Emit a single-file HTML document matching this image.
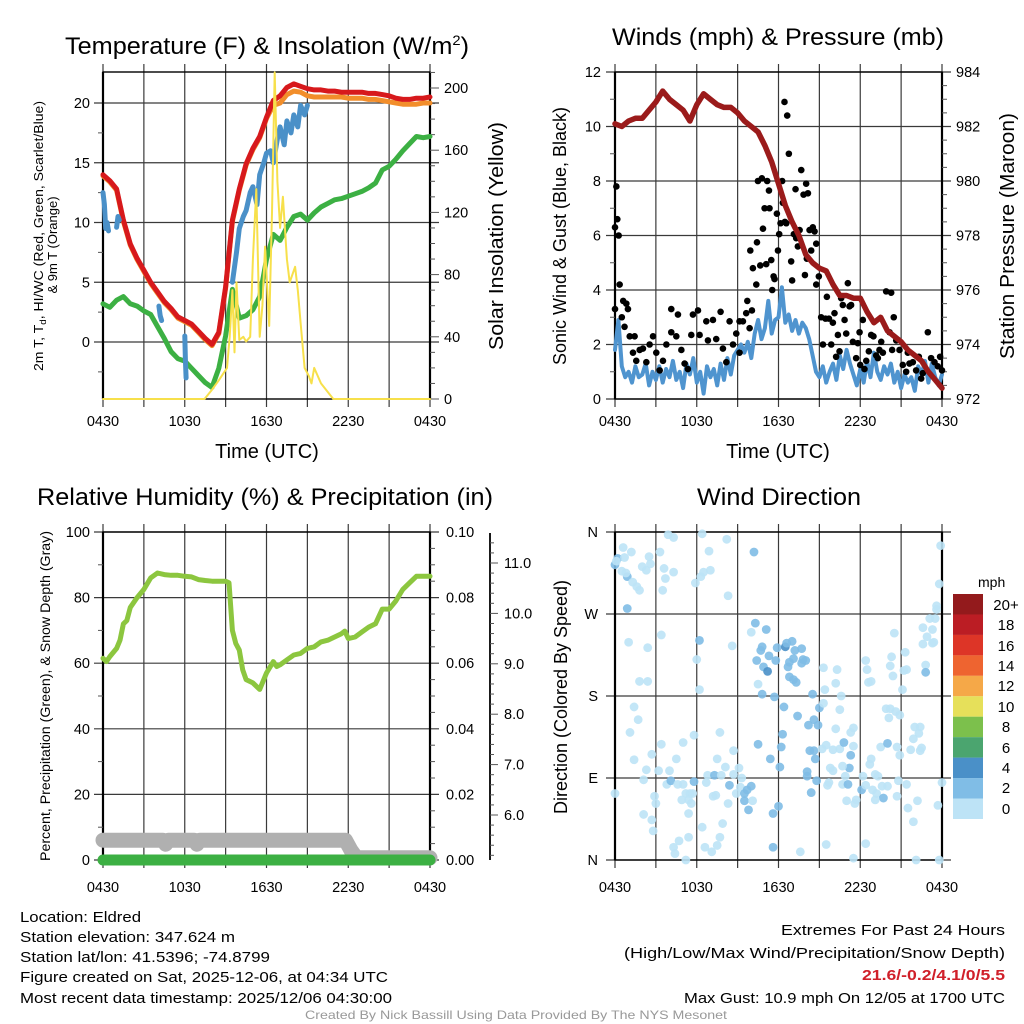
<!DOCTYPE html>
<html><head><meta charset="utf-8">
<style>
html,body{margin:0;padding:0;background:#fff;}
svg{display:block;font-family:"Liberation Sans",Arial,sans-serif;}
</style></head>
<body>
<svg id="chart" width="1024" height="1024" viewBox="0 0 1024 1024" xmlns="http://www.w3.org/2000/svg">
<rect x="0" y="0" width="1024" height="1024" fill="#fff"/>
<text x="267" y="54" font-size="24" text-anchor="middle" textLength="404" lengthAdjust="spacingAndGlyphs">Temperature (F) &amp; Insolation (W/m<tspan dy="-9" font-size="14">2</tspan><tspan dy="9">)</tspan></text>
<text x="778" y="45" font-size="24" text-anchor="middle" textLength="332" lengthAdjust="spacingAndGlyphs">Winds (mph) &amp; Pressure (mb)</text>
<text x="265" y="505" font-size="24" text-anchor="middle" textLength="456" lengthAdjust="spacingAndGlyphs">Relative Humidity (%) &amp; Precipitation (in)</text>
<text x="779" y="505" font-size="24" text-anchor="middle" textLength="164" lengthAdjust="spacingAndGlyphs">Wind Direction</text>
<text x="267" y="458" font-size="20" text-anchor="middle">Time (UTC)</text>
<text x="778" y="458" font-size="20" text-anchor="middle">Time (UTC)</text>
<text transform="translate(43,236) rotate(-90)" font-size="13" text-anchor="middle" textLength="270" lengthAdjust="spacingAndGlyphs">2m T, T<tspan font-size="9" dy="3">d</tspan><tspan dy="-3">, HI/WC (Red, Green, Scarlet/Blue)</tspan></text>
<text transform="translate(57,245) rotate(-90)" font-size="13" text-anchor="middle">&amp; 9m T (Orange)</text>
<text transform="translate(503,236) rotate(-90)" font-size="20" text-anchor="middle" textLength="228" lengthAdjust="spacingAndGlyphs">Solar Insolation (Yellow)</text>
<text transform="translate(566,236) rotate(-90)" font-size="18" text-anchor="middle" textLength="258" lengthAdjust="spacingAndGlyphs">Sonic Wind &amp; Gust (Blue, Black)</text>
<text transform="translate(1014,236) rotate(-90)" font-size="20" text-anchor="middle" textLength="246" lengthAdjust="spacingAndGlyphs">Station Pressure (Maroon)</text>
<text transform="translate(50,696) rotate(-90)" font-size="13.5" text-anchor="middle" textLength="330" lengthAdjust="spacingAndGlyphs">Percent, Precipitation (Green), &amp; Snow Depth (Gray)</text>
<text transform="translate(567,697) rotate(-90)" font-size="18" text-anchor="middle" textLength="234" lengthAdjust="spacingAndGlyphs">Direction (Colored By Speed)</text>
<g>
<text x="978" y="587" font-size="14" text-anchor="start">mph</text>
<rect x="953" y="594" width="30" height="20.5" fill="#931a1c"/>
<rect x="953" y="614.45" width="30" height="20.5" fill="#bb1d24"/>
<rect x="953" y="634.9" width="30" height="20.5" fill="#dd3527"/>
<rect x="953" y="655.35" width="30" height="20.5" fill="#ee6430"/>
<rect x="953" y="675.8" width="30" height="20.5" fill="#f5a848"/>
<rect x="953" y="696.25" width="30" height="20.5" fill="#e6e05a"/>
<rect x="953" y="716.7" width="30" height="20.5" fill="#7cc04c"/>
<rect x="953" y="737.15" width="30" height="20.5" fill="#4ba56f"/>
<rect x="953" y="757.6" width="30" height="20.5" fill="#4a90c8"/>
<rect x="953" y="778.05" width="30" height="20.5" fill="#80bde6"/>
<rect x="953" y="798.5" width="30" height="20.5" fill="#bde3f6"/>
<g font-size="15" text-anchor="middle">
<text x="1006" y="610">20+</text>
<text x="1006" y="630">18</text>
<text x="1006" y="651">16</text>
<text x="1006" y="671">14</text>
<text x="1006" y="691">12</text>
<text x="1006" y="712">10</text>
<text x="1006" y="732">8</text>
<text x="1006" y="753">6</text>
<text x="1006" y="773">4</text>
<text x="1006" y="793">2</text>
<text x="1006" y="814">0</text>
</g>
</g>
<g font-size="15">
<text x="20" y="922" textLength="121" lengthAdjust="spacingAndGlyphs">Location: Eldred</text>
<text x="20" y="942" textLength="215" lengthAdjust="spacingAndGlyphs">Station elevation: 347.624 m</text>
<text x="20" y="962" textLength="250" lengthAdjust="spacingAndGlyphs">Station lat/lon: 41.5396; -74.8799</text>
<text x="20" y="982" textLength="368" lengthAdjust="spacingAndGlyphs">Figure created on Sat, 2025-12-06, at 04:34 UTC</text>
<text x="20" y="1003" textLength="372" lengthAdjust="spacingAndGlyphs">Most recent data timestamp: 2025/12/06 04:30:00</text>
</g>
<g font-size="15" text-anchor="end">
<text x="1005" y="935" textLength="224" lengthAdjust="spacingAndGlyphs">Extremes For Past 24 Hours</text>
<text x="1005" y="958" textLength="381" lengthAdjust="spacingAndGlyphs">(High/Low/Max Wind/Precipitation/Snow Depth)</text>
<text x="1005" y="980" textLength="143" lengthAdjust="spacingAndGlyphs" fill="#d0202a" font-weight="bold">21.6/-0.2/4.1/0/5.5</text>
<text x="1005" y="1003" textLength="321" lengthAdjust="spacingAndGlyphs">Max Gust: 10.9 mph On 12/05 at 1700 UTC</text>
</g>
<text x="516" y="1019" font-size="12" fill="#999" text-anchor="middle" textLength="422" lengthAdjust="spacingAndGlyphs">Created By Nick Bassill Using Data Provided By The NYS Mesonet</text>

<g id="p1"></g>
<g id="p2"></g>
<g id="p3"></g>
<g id="p4"></g>
</svg>
<script>
const timeTickHours = [0, 6, 12, 18, 24];
const timeTickLabels = ["0430", "1030", "1630", "2230", "0430"];
const gridHours = [0, 3, 6, 9, 12, 15, 18, 21, 24];

const tempTicks = [0, 5, 10, 15, 20];
const tempMinor = [-2.5, 2.5, 7.5, 12.5, 17.5];
const solarTicks = [0, 40, 80, 120, 160, 200];
const solarMinor = [10, 20, 30, 50, 60, 70, 90, 100, 110, 130, 140, 150, 170, 180, 190, 210];
const tempHours = [0,0.5,1,1.5,2,2.5,3,3.5,4,4.5,5,5.5,6,6.5,7,7.5,8,8.5,9,9.5,10,10.5,11,11.5,12,12.5,13,13.5,14,14.5,15,15.5,16,16.5,17,17.5,18,18.5,19,19.5,20,20.5,21,21.5,22,22.5,23,23.5,24];
const temp2m = [14,13.5,12.8,10.2,8.2,7.0,6.0,5.0,4.2,3.4,2.8,2.1,1.8,1.5,0.9,0.3,-0.2,0.8,4.6,10.2,12.8,14.9,16.2,17.2,18.8,20.2,20.6,21.3,21.6,21.4,21.2,21.1,21.1,21.0,21.0,20.9,20.9,20.9,20.9,20.8,20.8,20.7,20.6,20.4,20.3,20.3,20.4,20.4,20.5];
const temp9m = [13.9,13.4,12.7,10.1,8.1,6.9,5.9,4.9,4.1,3.3,2.7,2.0,1.7,1.4,0.8,0.2,-0.3,0.7,4.5,10.1,12.7,14.8,16.1,17.1,18.7,19.8,20.0,20.7,21.0,20.9,20.6,20.5,20.5,20.5,20.5,20.5,20.4,20.4,20.4,20.3,20.3,20.2,20.1,20.0,19.9,19.9,19.9,20.0,20.0];
const dewpoint = [3.2,2.9,3.5,3.8,3.2,3.0,2.6,2.3,1.3,0.3,-0.8,-1.4,-1.6,-2.2,-2.8,-3.4,-3.8,-2.2,0.5,4.4,2.0,2.2,2.7,3.8,6.9,9.0,8.5,9.6,10.5,10.7,10.2,10.8,11.3,11.6,11.9,12.0,12.2,12.4,12.6,12.9,13.3,14.4,14.7,15.3,16.0,16.6,17.2,17.1,17.2];
const hiwcHours = [0,0.1,0.2,0.3,0.4,0.5,1.0,1.1,1.2,1.3,4.1,4.2,4.3,4.4,6.0,6.05,6.1,6.2,9.5,9.8,10,10.3,10.5,10.8,11,11.3,11.5,11.8,12,12.3,12.5,12.8,13,13.3,13.5,13.8,14,14.3,14.5,14.8,15];
const hiwcValues = [12.5,11.5,9.5,10,9.3,null,9.6,10.5,10.2,null,3,2.2,1.8,null,0.5,-1.5,-3,null,5,7.5,9.5,10.5,11,12.5,13,11.5,14,15,15.8,16,15,17,18,16.5,18.5,17.5,19,18,19.8,19,19.8];
const solarHours = [0,7.45,8,8.5,9.1,9.3,9.5,9.65,9.8,10.0,10.3,10.5,10.8,11.0,11.25,11.5,11.7,11.9,12.2,12.4,12.6,12.8,13.0,13.2,13.5,13.7,13.9,14.1,14.3,14.5,14.8,15.1,15.3,15.5,16.0,16.9,24];
const solarValues = [0,0,6,12,20,40,70,30,75,38,40,37,40,90,135,40,60,98,47,120,210,140,110,130,90,75,80,85,70,49,20,15,10,20,10,0,0];

const windTicks = [0, 2, 4, 6, 8, 10, 12];
const windMinor = [1, 3, 5, 7, 9, 11];
const pressTicks = [972, 974, 976, 978, 980, 982, 984];
const pressMinor = [972.5,973,973.5,974.5,975,975.5,976.5,977,977.5,978.5,979,979.5,980.5,981,981.5,982.5,983,983.5];
const pressHours = tempHours;
const pressValues = [982.1,982.0,982.2,982.3,982.3,982.6,982.9,983.3,983.0,982.8,982.6,982.2,982.8,983.2,983.0,982.8,982.7,982.7,982.5,982.2,982.0,981.8,981.3,980.7,979.9,979.1,978.5,978.0,977.3,977.0,976.8,976.7,976.2,975.8,975.8,975.7,975.7,975.2,974.8,975.0,974.5,974.3,974.1,973.8,973.6,973.4,973.0,972.7,972.4];
const windSpeeds = [1.8,2.9,1.2,0.8,1.0,0.6,1.2,0.8,0.9,1.3,0.5,1.0,0.7,1.2,0.6,1.1,0.8,1.4,0.7,1.0,0.4,1.3,0.9,1.5,0.6,1.0,0.2,1.2,0.8,1.1,0.5,1.3,0.7,1.5,0.9,1.6,1.8,2.0,1.7,2.1,1.5,2.4,2.9,2.2,2.6,3.6,2.4,2.9,3.0,4.1,2.8,3.1,2.5,2.9,2.4,2.8,2.6,2.2,1.6,1.0,0.8,1.2,0.6,1.0,1.3,0.7,1.6,1.1,1.8,1.3,0.9,0.5,1.1,0.6,1.4,0.8,1.7,1.0,0.7,1.2,0.9,1.3,0.6,1.0,0.4,0.9,0.6,0.8,0.3,1.2,0.9,1.4,0.6,1.3,0.8,0.5,0.9];
const gustHours = [0.0,0.1,0.0,0.17,0.27,0.34,0.5,0.6,0.83,0.7,0.95,1.08,1.44,1.32,1.56,1.81,2.05,2.3,2.54,2.79,3.03,3.28,3.52,3.77,4.13,4.13,4.5,4.62,4.87,5.11,5.35,5.6,5.72,6.09,6.21,6.7,6.82,7.19,7.43,7.75,7.92,8.17,8.41,8.66,8.9,9.14,9.14,9.39,9.63,9.71,9.88,10.05,9.93,10.12,10.37,10.42,10.49,10.66,10.78,10.86,10.98,11.1,11.17,11.3,11.34,11.47,11.54,11.64,11.71,11.88,11.96,12.05,12.15,12.27,12.32,12.44,12.47,12.57,12.64,12.76,12.93,13.0,13.13,13.25,13.3,13.42,13.55,13.67,13.84,13.94,14.03,14.08,14.16,14.28,14.4,14.52,14.65,14.77,14.77,14.96,15.13,15.26,15.45,15.55,15.7,15.87,15.99,16.11,16.23,16.36,16.48,16.6,16.72,16.85,16.97,17.09,17.21,17.33,17.46,17.7,17.82,17.95,18.0,18.19,18.31,18.44,18.63,18.8,18.97,19.17,19.29,19.41,19.54,19.66,19.9,20.27,20.15,20.34,20.46,20.64,20.88,21.12,21.37,21.49,21.61,21.86,22.1,22.3,22.47,22.59,22.96,23.2,23.45,23.69,23.86,24.0];
const gustValues = [3.3,7.8,6.3,6.6,6.0,4.2,3.0,3.6,3.5,2.65,3.3,2.3,2.3,1.7,1.4,1.8,1.85,1.35,2.0,2.3,1.7,1.05,1.4,2.0,2.45,3.3,2.3,3.1,1.8,1.3,1.1,2.35,3.1,3.25,2.35,2.85,2.15,2.9,2.2,3.2,1.85,1.35,2.85,2.0,2.4,1.7,2.85,2.85,3.15,3.6,2.6,3.25,5.45,4.8,4.2,5.75,8.0,4.9,8.1,6.25,7.0,4.95,8.0,7.65,7.0,5.1,4.0,4.5,4.4,6.8,5.45,6.05,6.45,8.0,7.2,10.9,6.5,6.45,10.4,9.0,5.05,4.35,6.05,7.7,5.9,5.6,6.2,8.4,7.5,4.55,7.9,5.15,7.55,6.2,5.45,6.3,6.15,5.7,4.2,4.5,3.0,2.0,2.95,3.75,2.95,2.0,2.8,3.15,1.55,2.35,1.75,3.7,3.45,2.9,2.4,4.25,3.4,3.45,2.1,1.5,2.05,2.45,1.25,2.9,1.1,1.4,1.75,2.35,2.3,1.6,1.5,1.8,2.1,1.7,3.95,3.9,2.45,1.8,3.0,2.15,1.8,1.25,1.0,1.7,1.3,1.35,1.05,1.55,0.75,0.95,2.45,1.5,1.35,1.2,1.55,1.05];

const rhTicks = [0, 20, 40, 60, 80, 100];
const rhMinor = [10, 30, 50, 70, 90];
const precipTicks = [0, 0.02, 0.04, 0.06, 0.08, 0.10];
const precipTickLabels = ["0.00", "0.02", "0.04", "0.06", "0.08", "0.10"];
const precipMinor = [0.005,0.01,0.015,0.025,0.03,0.035,0.045,0.05,0.055,0.065,0.07,0.075,0.085,0.09,0.095];
const snowTicks = [6, 7, 8, 9, 10, 11];
const snowTickLabels = ["6.0", "7.0", "8.0", "9.0", "10.0", "11.0"];
const snowMinor = [5.2,5.4,5.6,5.8,6.2,6.4,6.6,6.8,7.2,7.4,7.6,7.8,8.2,8.4,8.6,8.8,9.2,9.4,9.6,9.8,10.2,10.4,10.6,10.8,11.2,11.4];
const rhHours = [0,0.25,0.5,1,1.25,1.5,1.75,2,2.5,3,3.5,4,4.5,5,5.5,6,6.5,7,7.5,8,8.5,9,9.25,9.5,9.75,10,10.25,10.5,11,11.25,11.5,12,12.5,12.75,13,13.5,14,14.5,15,15.5,16,16.5,17,17.5,17.75,18,18.5,19,19.5,20,20.5,21,21.5,22,22.5,23,23.5,24];
const rhValues = [61.5,60.5,62,64.5,67,72,73,77,80,82.5,86,87.5,87,86.8,86.8,86.5,86.3,85.5,85.2,85,85,85,84.5,70,66,64,58,55,54,53,52,57,60.5,59,59.5,61,62.5,63,64.5,65,66.5,67,68,69,69.8,67.5,68,69.5,71,72,76.5,76.5,79,82.5,84.5,86.5,86.5,86.5];
const snowHours = [0,4.4,4.6,4.8,6.7,6.9,7.1,17.8,18.2,18.6,24];
const snowValues = [5.5,5.5,5.42,5.5,5.5,5.42,5.5,5.5,5.3,5.15,5.15];
const precipHours = [0, 24];
const precipValues = [0, 0];

const dirTicks = [0, 90, 180, 270, 360];
const dirTickLabels = ["N", "E", "S", "W", "N"];
const speedBins = [0,2,4,6,8,10,12,14,16,18,20];
const speedColors = ["#bde3f6","#80bde6","#4a90c8","#4ba56f","#7cc04c","#e6e05a","#f5a848","#ee6430","#dd3527","#bb1d24","#931a1c"];
const dirHours = [0.0,0.2,0.1,0.6,0.5,0.7,0.9,1.2,0.8,1.3,1.6,1.8,0.9,1.0,2.4,1.8,2.4,1.4,1.7,1.1,1.4,2.1,2.3,2.7,3.2,3.4,2.9,3.0,2.1,2.7,2.8,3.3,2.5,2.0,2.3,2.6,3.6,3.7,3.9,4.3,4.3,3.5,3.4,3.8,4.1,4.0,4.5,5.0,4.6,5.0,5.2,5.5,5.4,4.9,5.6,5.4,5.7,4.7,4.3,4.4,5.2,5.4,6.4,6.6,7.1,7.5,7.7,5.8,6.7,6.8,7.3,7.2,7.4,7.8,8.1,7.9,8.3,8.4,8.7,8.9,9.1,9.3,9.2,9.5,9.7,10.0,9.8,9.5,10.1,7.5,7.7,8.7,5.8,6.2,6.0,6.2,5.9,6.3,6.5,7.0,6.9,6.4,8.2,8.3,8.6,10.2,10.3,10.0,11.1,10.7,10.8,10.4,10.9,11.2,11.3,11.8,11.9,12.5,12.6,13.0,13.2,13.1,12.8,12.7,12.8,13.1,13.3,13.8,13.7,14.0,13.7,10.5,10.8,11.7,12.4,13.4,14.2,14.5,15.0,14.6,14.9,15.3,15.4,15.3,16.3,16.2,16.6,16.5,16.2,12.3,12.2,10.5,11.4,12.1,14.1,14.1,14.8,14.4,14.3,14.7,14.6,15.2,15.5,16.0,15.8,16.0,16.5,16.8,17.3,17.2,16.7,16.9,15.7,15.6,16.7,17.1,17.0,17.7,17.6,18.1,18.2,18.4,18.7,18.8,19.1,19.3,19.5,20.0,18.9,19.2,19.7,19.1,20.0,19.6,20.7,20.8,21.4,21.5,22.2,21.9,20.7,20.9,21.7,22.4,22.5,22.0,22.4,22.3,21.9,19.9,20.2,20.1,20.6,20.9,17.5,17.3,17.5,17.5,18.4,22.1,23.8,23.7,24.0,15.5,13.6,11.6,11.6,12.0,18.4,18.5,18.6,18.8,20.3,20.2,20.4,21.3,21.2,21.4,21.1,20.5,22.6,22.9,23.3,23.4,22.6,23.1,23.3,23.5,23.6,23.6,23.8,23.9,22.8,22.8,0.0];
const dirDegrees = [324,331,328,343,317,332,311,338,315,305,300,296,276,239,233,196,196,168,154,140,110,88,99,116,98,127,70,62,50,44,32,338,333,322,318,325,320,309,357,354,316,296,247,83,87,98,111,129,83,83,73,73,66,66,62,51,73,21,14,7,0,25,36,14,9,16,25,86,85,93,93,70,71,93,102,40,62,82,94,73,101,90,80,73,77,81,55,65,65,111,140,120,137,241,220,187,304,311,316,318,339,358,352,290,235,338,260,250,253,230,234,219,212,207,224,219,233,234,238,240,230,221,217,212,201,198,195,220,216,219,232,193,182,179,168,158,148,182,167,154,148,172,187,211,209,194,180,165,144,138,124,127,111,102,97,92,87,74,120,111,120,122,126,121,101,98,122,129,115,101,103,92,85,82,83,83,65,66,62,77,92,82,105,111,94,92,124,128,77,73,68,66,81,81,70,87,83,57,65,42,124,115,121,120,123,146,146,139,133,166,166,156,163,159,145,140,125,2,18,0,0,60,85,17,9,14,51,59,219,209,195,196,223,213,202,228,208,209,187,249,237,245,238,239,255,265,253,265,275,279,303,345,214,206,73];
const dirSpeeds = [3,3,1,1,1,1,3,1,1,1,1,1,3,1,1,1,1,1,1,1,1,1,1,1,1,1,1,1,1,1,1,1,1,1,1,1,1,1,1,1,1,1,1,1,3,1,1,1,1,1,1,1,1,1,1,1,1,1,1,1,1,1,1,1,1,1,1,3,1,1,3,1,1,1,1,1,1,3,1,1,1,1,1,3,3,3,3,3,1,1,1,1,1,3,1,1,1,1,1,1,1,1,1,1,1,3,3,1,3,3,3,3,3,5,3,3,3,5,3,3,3,3,3,3,3,3,3,3,3,3,3,1,3,3,3,3,3,3,3,3,3,1,1,1,1,1,1,1,1,3,3,3,3,3,3,3,3,3,3,3,3,1,1,1,1,1,1,3,3,3,1,1,1,1,1,3,1,1,1,3,1,1,1,1,1,1,1,3,1,1,3,1,1,1,1,1,1,1,1,1,1,1,1,1,1,1,1,1,1,1,1,1,1,1,1,1,1,1,1,1,1,1,1,1,1,3,3,3,1,1,1,1,1,1,1,1,1,1,1,1,1,1,1,1,1,1,1,1,1,1,1,1,1,3];

const NS = 'http://www.w3.org/2000/svg';
function mk(tag, attrs, parent) {
  const e = document.createElementNS(NS, tag);
  for (const k in attrs) e.setAttribute(k, attrs[k]);
  parent.appendChild(e);
  return e;
}
function lin(d0, d1, r0, r1) { return v => r0 + (v - d0) * (r1 - r0) / (d1 - d0); }
function pathD(xs, ys, xf, yf) {
  let d = '', pen = false;
  for (let i = 0; i < xs.length; i++) {
    if (ys[i] === null || ys[i] === undefined) { pen = false; continue; }
    d += (pen ? 'L' : 'M') + xf(xs[i]).toFixed(1) + ',' + yf(ys[i]).toFixed(1);
    pen = true;
  }
  return d;
}
function drawGrid(g, P, xf, yMajor, yf) {
  for (const h of gridHours) {
    const l = mk('line', {x1: xf(h), x2: xf(h), y1: P.T - 8, y2: P.B + 8, stroke: '#3a3a3a', 'stroke-width': 1.2}, g);
    
    
  }
  for (const v of yMajor) {
    const l = mk('line', {x1: P.L - 9, x2: P.R + 9, y1: yf(v), y2: yf(v), stroke: '#3a3a3a', 'stroke-width': 1.2}, g);
    
    
  }
  const r = mk('rect', {x: P.L, y: P.T, width: P.R - P.L, height: P.B - P.T, fill: 'none', stroke: '#000', 'stroke-width': 1.4}, g);
  
  
  for (const x of [P.L, P.R]) {
    const fl = mk('line', {x1: x, x2: x, y1: P.T, y2: P.B, stroke: '#000', 'stroke-width': 2.2}, g);
    
    
  }
}
function drawMinor(g, vals, yf, x0, x1) {
  for (const v of vals) {
    const l = mk('line', {x1: x0, x2: x1, y1: yf(v), y2: yf(v), stroke: '#555', 'stroke-width': 1}, g);
    
    
  }
}
function drawYLabels(g, vals, labels, yf, x, anchor) {
  vals.forEach((v, i) => {
    const t = mk('text', {x: x, y: yf(v) + 5, 'font-size': 14.5, 'text-anchor': anchor}, g);
    t.textContent = labels[i];
    
    
  });
}
function drawXLabels(g, xf, y) {
  timeTickHours.forEach((h, i) => {
    const t = mk('text', {x: xf(h), y: y, 'font-size': 14.5, 'text-anchor': 'middle'}, g);
    t.textContent = timeTickLabels[i];
    
    
  });
}
function drawLine(g, xs, ys, xf, yf, color, w, name) {
  const p = mk('path', {d: pathD(xs, ys, xf, yf), fill: 'none', stroke: color, 'stroke-width': w, 'stroke-linejoin': 'round', 'stroke-linecap': 'round'}, g);
  
  
  return p;
}

(function () {
  const g = document.getElementById('p1');
  const P = {L: 103, R: 430, T: 72, B: 399};
  const x = lin(0, 24, P.L, P.R), y = lin(0, 20, 342, 103), ys = lin(0, 200, 399, 88);
  drawGrid(g, P, x, tempTicks, y);
  drawMinor(g, tempMinor, y, P.L - 5, P.L);
  drawMinor(g, solarTicks, ys, P.R, P.R + 9);
  drawMinor(g, solarMinor, ys, P.R, P.R + 5);
  drawYLabels(g, tempTicks, tempTicks.map(String), y, P.L - 13, 'end');
  drawYLabels(g, solarTicks, solarTicks.map(String), ys, P.R + 14, 'start');
  drawXLabels(g, x, 426);
  drawLine(g, tempHours, temp9m, x, y, '#f28e2b', 5, 'temp-9m-line');
  drawLine(g, tempHours, temp2m, x, y, '#d7191c', 5, 'temp-2m-line');
  drawLine(g, tempHours, dewpoint, x, y, '#3cb043', 5, 'dewpoint-line');
  drawLine(g, hiwcHours, hiwcValues, x, y, '#4a90c8', 5, 'heat-index-windchill-line');
  drawLine(g, solarHours, solarValues, x, ys, '#f7e04b', 2, 'solar-insolation-line');
})();

(function () {
  const g = document.getElementById('p2');
  const P = {L: 615, R: 942, T: 72, B: 399};
  const x = lin(0, 24, P.L, P.R), y = lin(0, 12, 399, 72), yp = lin(972, 984, 399, 72);
  drawGrid(g, P, x, windTicks, y);
  drawMinor(g, windMinor, y, P.L - 5, P.L);
  drawMinor(g, pressMinor, yp, P.R, P.R + 5);
  drawYLabels(g, windTicks, windTicks.map(String), y, P.L - 14, 'end');
  drawYLabels(g, pressTicks, pressTicks.map(String), yp, P.R + 14, 'start');
  drawXLabels(g, x, 426);
  const step = 24 / (windSpeeds.length - 1);
  const windHours = windSpeeds.map((_, i) => i * step);
  drawLine(g, windHours, windSpeeds, x, y, '#4f94cf', 4, 'sonic-wind-line');
  gustHours.forEach((h, i) => {
    const c = mk('circle', {cx: x(h), cy: y(gustValues[i]), r: 3.3, fill: '#000'}, g);
    
    
  });
  drawLine(g, pressHours, pressValues, x, yp, '#9b1b1b', 5.5, 'station-pressure-line');
})();

(function () {
  const g = document.getElementById('p3');
  const P = {L: 103, R: 430, T: 532, B: 860};
  const x = lin(0, 24, P.L, P.R), y = lin(0, 100, 860, 532), yp = lin(0, 0.1, 860, 532), ysn = lin(6, 11, 815, 563);
  drawGrid(g, P, x, rhTicks, y);
  drawMinor(g, rhMinor, y, P.L - 5, P.L);
  drawMinor(g, precipMinor, yp, P.R, P.R + 5);
  drawYLabels(g, rhTicks, rhTicks.map(String), y, P.L - 13, 'end');
  drawYLabels(g, precipTicks, precipTickLabels, yp, P.R + 16, 'start');
  drawXLabels(g, x, 892);
  const ax = mk('line', {x1: 490, x2: 490, y1: 533, y2: 860, stroke: '#000', 'stroke-width': 1.8}, g);
  
  
  drawMinor(g, snowTicks, ysn, 490, 498);
  drawMinor(g, snowMinor.filter(v => ysn(v) > 533 && ysn(v) < 860), ysn, 490, 494);
  drawYLabels(g, snowTicks, snowTickLabels, ysn, 504, 'start');
  drawLine(g, snowHours, snowValues, x, ysn, '#b0b0b0', 15, 'snow-depth-line');
  drawLine(g, precipHours, precipValues, x, yp, '#3cb043', 11, 'precipitation-line');
  drawLine(g, rhHours, rhValues, x, y, '#8cc63f', 5, 'relative-humidity-line');
})();

(function () {
  const g = document.getElementById('p4');
  const P = {L: 615, R: 942, T: 532, B: 860};
  const x = lin(0, 24, P.L, P.R), y = lin(0, 360, 860, 532);
  drawGrid(g, P, x, dirTicks, y);
  drawYLabels(g, dirTicks, dirTickLabels, y, P.L - 17, 'end');
  drawXLabels(g, x, 892);
  function colorFor(s) {
    let k = 0;
    for (let i = 0; i < speedBins.length; i++) if (s >= speedBins[i]) k = i;
    return speedColors[k];
  }
  dirHours.forEach((h, i) => {
    const c = mk('circle', {cx: x(h), cy: y(dirDegrees[i]), r: 4.4, fill: colorFor(dirSpeeds[i]), 'fill-opacity': 0.9}, g);
    
    
  });
})();
</script>
</body></html>
